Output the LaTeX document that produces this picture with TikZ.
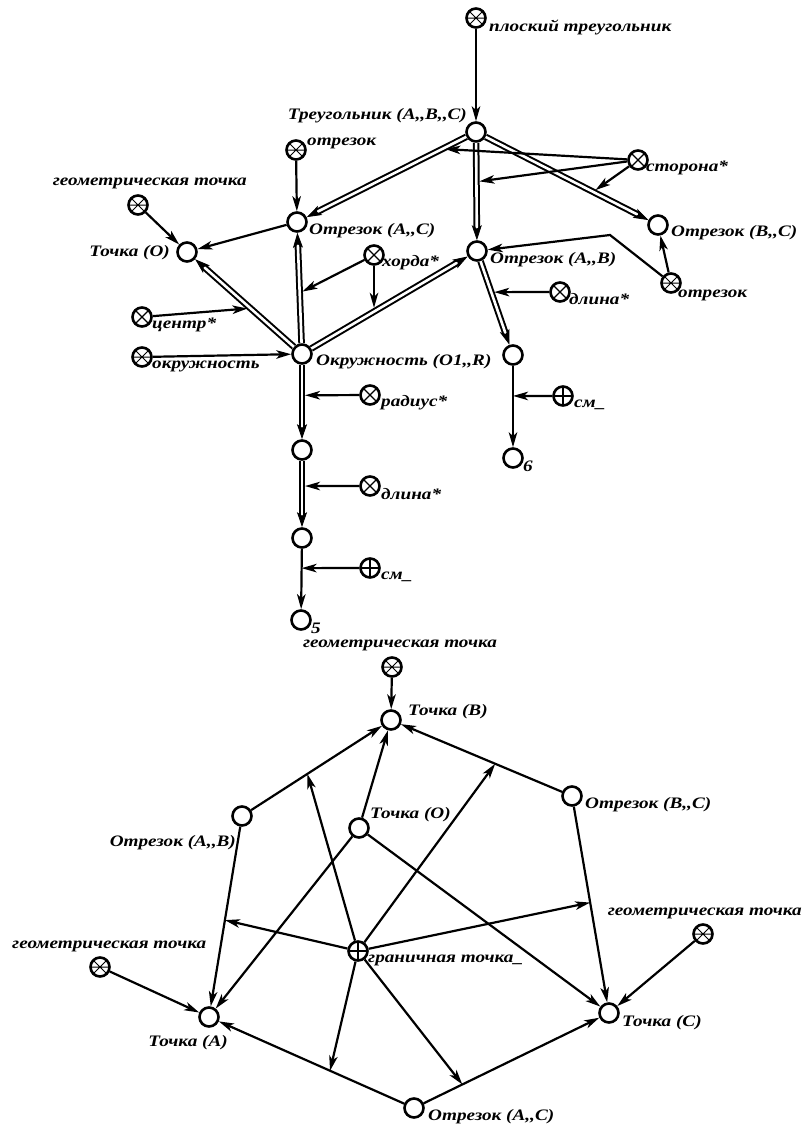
\documentclass[tikz,border=0pt]{standalone}
\usepackage{fontspec}
\setmainfont{Liberation Serif}[FakeStretch=1.2]
\usetikzlibrary{arrows.meta,decorations.markings}
\newcommand\dcomma{,\kern0pt,}
\begin{document}
\begin{tikzpicture}[x=1pt,y=-1pt,
  base/.style={circle, draw, line width=2.6pt, minimum size=19pt, inner sep=0pt, fill=white},
  pt/.style={base},
  attr/.style={base, path picture={\draw[line width=1.1pt]
      (path picture bounding box.north west) -- (path picture bounding box.south east)
      (path picture bounding box.north east) -- (path picture bounding box.south west);}},
  concept/.style={base, path picture={\draw[line width=1pt]
      (path picture bounding box.north west) -- (path picture bounding box.south east)
      (path picture bounding box.north east) -- (path picture bounding box.south west)
      (path picture bounding box.west) -- (path picture bounding box.east);}},
  plus/.style={base, path picture={\draw[line width=1.1pt]
      (path picture bounding box.north) -- (path picture bounding box.south)
      (path picture bounding box.west) -- (path picture bounding box.east);}},
  lbl/.style={font=\bfseries\itshape\fontsize{16}{18}\selectfont, inner sep=0pt},
  arr/.style={line width=2.2pt, -{Stealth[length=15pt,width=8.5pt,inset=4pt]}},
  arr2/.style={arr, shorten >=3pt},
  dbl/.style={line width=6.6pt, shorten >=11pt,
      postaction={draw=white, line width=2.6pt, shorten >=11pt},
      postaction={decorate, decoration={markings, mark=at position 1 with
        {\arrow[line width=0.8pt]{Stealth[length=15pt,width=10pt,inset=3.5pt]}}}}},
]
\useasboundingbox (0,0) rectangle (804,1128);
\fill[white] (0,0) rectangle (804,1128);
\clip (0,0) rectangle (804,1128);

% ---------- top part: nodes ----------
\node[concept] (plosk) at (476,18) {};
\node[pt] (treug) at (476,132) {};
\node[concept] (otr1) at (296,150) {};
\node[attr] (storona) at (638,160) {};
\node[concept] (geo1) at (138,205) {};
\node[pt] (segAC) at (297,222) {};
\node[pt] (segBC) at (658,225) {};
\node[pt] (tO) at (187,252) {};
\node[attr] (horda) at (374,255) {};
\node[pt] (segAB) at (477,251) {};
\node[concept] (otr2) at (671,283) {};
\node[attr] (dlina1) at (560,292) {};
\node[attr] (centr) at (142,317) {};
\node[concept] (okrc) at (142,357) {};
\node[pt] (okr) at (302,354) {};
\node[pt] (n3) at (513,355) {};
\node[attr] (radius) at (370,395) {};
\node[plus] (sm1) at (563,396) {};
\node[pt] (n6) at (513,458) {};
\node[pt] (n1) at (302,450) {};
\node[attr] (dlina2) at (370,486) {};
\node[pt] (n2) at (302,538) {};
\node[plus] (sm2) at (370,568) {};
\node[pt] (n5) at (301,620) {};

% ---------- top part: labels ----------
\node[lbl, anchor=west] (Lplosk) at (489,27) {плоский треугольник};
\node[lbl, anchor=east] (Ltreug) at (467,116) {Треугольник (A\dcomma B\dcomma C)};
\node[lbl, anchor=west] (Lotr1) at (307,143) {отрезок};
\node[lbl, anchor=west] (Lstorona) at (646,168) {сторона*};
\node[lbl, anchor=east] (Lgeo1) at (247,183) {геометрическая точка};
\node[lbl, anchor=west] (LsegAC) at (309,231) {Отрезок (A\dcomma C)};
\node[lbl, anchor=west] (LsegBC) at (671,233) {Отрезок (B\dcomma C)};
\node[lbl, anchor=east] (LtO) at (170,253) {Точка (O)};
\node[lbl, anchor=west] (Lhorda) at (382,263) {хорда*};
\node[lbl, anchor=west] (LsegAB) at (490,260) {Отрезок (A\dcomma B)};
\node[lbl, anchor=west] (Lotr2) at (678,295) {отрезок};
\node[lbl, anchor=west] (Ldlina1) at (569,299) {длина*};
\node[lbl, anchor=west] (Lcentr) at (152,325) {центр*};
\node[lbl, anchor=west] (Lokrc) at (152,366) {окружность};
\node[lbl, anchor=west] (Lokr) at (316,362) {Окружность (O1\dcomma R)};
\node[lbl, anchor=west] (Lradius) at (381,403) {радиус*};
\node[lbl, anchor=west] (Lsm1) at (574,405) {см\_};
\node[lbl, anchor=west] (Ln6) at (523,466) {6};
\node[lbl, anchor=west] (Ldlina2) at (381,494) {длина*};
\node[lbl, anchor=west] (Lsm2) at (381,577) {см\_};
\node[lbl, anchor=west] (Ln5) at (311,628) {5};

% ---------- top part: connectors ----------
\draw[arr] (plosk) -- (treug);
\draw[dbl] (treug) -- coordinate[pos=0.15] (mTAC) (segAC);
\draw[dbl] (treug) -- coordinate[pos=0.40] (mTAB) (segAB);
\draw[dbl] (treug) -- coordinate[pos=0.66] (mTBC) (segBC);
\draw[arr2] (storona) -- (mTAC);
\draw[arr2] (storona) -- (mTAB);
\draw[arr2] (storona) -- (mTBC);
\draw[arr] (otr1) -- (segAC);
\draw[arr] (segAC) -- (tO);
\draw[arr] (geo1) -- (tO);
\draw[dbl] (okr) -- coordinate[pos=0.44] (mOTO) (tO);
\draw[dbl] (okr) -- coordinate[pos=0.455] (mOAC) (segAC);
\draw[dbl] (okr) -- coordinate[pos=0.41] (mOAB) (segAB);
\draw[arr2] (horda) -- (mOAC);
\draw[arr2] (horda) -- (horda |- mOAB);
\draw[arr2] (centr) -- (mOTO);
\draw[arr] (okrc) -- (okr);
\draw[arr] (otr2) -- (segBC);
\coordinate (bend) at (610,235);
\draw[arr] (otr2) -- (bend) -- (segAB);
\draw[dbl] (segAB) -- coordinate[pos=0.37] (mABn) (n3);
\draw[arr2] (dlina1) -- (mABn);
\draw[arr] (n3) -- coordinate[pos=0.37] (mn3) (n6);
\draw[arr] (sm1) -- (mn3);
\draw[dbl] (okr) -- coordinate[pos=0.41] (mOn1) (n1);
\draw[arr2] (radius) -- (mOn1);
\draw[dbl] (n1) -- coordinate[pos=0.38] (mn1) (n2);
\draw[arr2] (dlina2) -- (mn1);
\draw[arr] (n2) -- coordinate[pos=0.32] (mn2) (n5);
\draw[arr] (sm2) -- (mn2);

% ---------- bottom part: nodes ----------
\node[concept] (geoB) at (392,667) {};
\node[pt] (ptB) at (391,720) {};
\node[pt] (segAB2) at (242,816) {};
\node[pt] (ptO) at (359,828) {};
\node[pt] (segBC2) at (572,796) {};
\node[plus] (gran) at (358,951) {};
\node[concept] (geoR) at (703,934) {};
\node[concept] (geoL) at (100,967) {};
\node[pt] (ptA) at (209,1017) {};
\node[pt] (ptC) at (609,1013) {};
\node[pt] (segAC2) at (414,1108) {};

% ---------- bottom part: labels ----------
\node[lbl] (LgeoB) at (400,645) {геометрическая точка};
\node[lbl, anchor=west] (LptB) at (408,712) {Точка (B)};
\node[lbl, anchor=east] (LsegAB2) at (236,843) {Отрезок (A\dcomma B)};
\node[lbl, anchor=west] (LptO) at (370,815) {Точка (O)};
\node[lbl, anchor=west] (LsegBC2) at (585,805) {Отрезок (B\dcomma C)};
\node[lbl, anchor=west] (Lgran) at (368,960) {граничная точка\_};
\node[lbl, anchor=east] (LgeoR) at (802,913) {геометрическая точка};
\node[lbl, anchor=west] (LgeoL) at (12,946) {геометрическая точка};
\node[lbl] (LptA) at (188,1043) {Точка (A)};
\node[lbl, anchor=west] (LptC) at (622,1023) {Точка (C)};
\node[lbl, anchor=west] (LsegAC2) at (428,1117) {Отрезок (A\dcomma C)};

% ---------- bottom part: connectors ----------
\draw[arr] (geoB) -- (ptB);
\draw[arr] (segAB2) -- coordinate[pos=0.43] (b1) (ptB);
\draw[arr] (segAB2) -- coordinate[pos=0.52] (b2) (ptA);
\draw[arr] (segBC2) -- coordinate[pos=0.415] (b3) (ptB);
\draw[arr] (segBC2) -- coordinate[pos=0.49] (b4) (ptC);
\draw[arr] (segAC2) -- coordinate[pos=0.40] (b5) (ptA);
\draw[arr] (segAC2) -- coordinate[pos=0.22] (b6) (ptC);
\draw[arr] (ptO) -- (ptB);
\draw[arr] (ptO) -- (ptA);
\draw[arr] (ptO) -- (ptC);
\draw[arr] (geoL) -- (ptA);
\draw[arr] (geoR) -- (ptC);
\foreach \m in {b1,b2,b3,b4,b5,b6} \draw[arr] (gran) -- (\m);
\end{tikzpicture}
\end{document}
